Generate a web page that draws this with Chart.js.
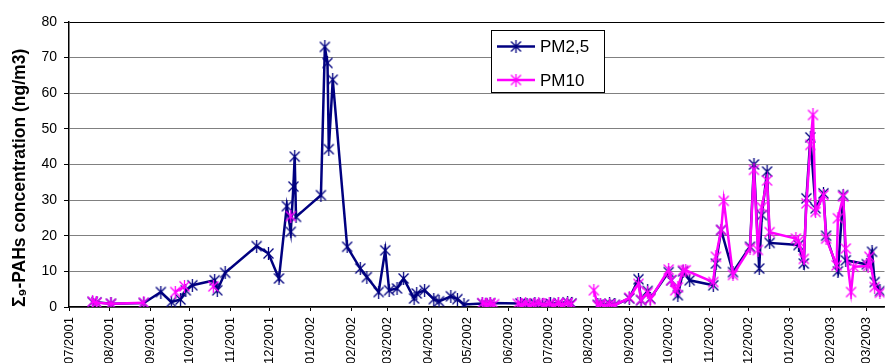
<!DOCTYPE html>
<html>
<head>
<meta charset="utf-8">
<script src="https://cdn.jsdelivr.net/npm/chart.js@4.4.1/dist/chart.umd.min.js"></script>
<style>
  html, body { margin: 0; padding: 0; background: #fff; overflow: hidden; }
</style>
</head>
<body>
<canvas id="chart" width="893" height="363"></canvas>
<script>
// month tick labels (MM/YYYY), each one sits on the 1st of its month
const monthLabels = ['07/2001', '08/2001', '09/2001', '10/2001', '11/2001', '12/2001',
  '01/2002', '02/2002', '03/2002', '04/2002', '05/2002', '06/2002', '07/2002',
  '08/2002', '09/2002', '10/2002', '11/2002', '12/2002', '01/2003', '02/2003', '03/2003'];

const pm25Dates = ['2001-07-19', '2001-07-22', '2001-08-02', '2001-08-27', '2001-09-09', '2001-09-17',
  '2001-09-24', '2001-09-28', '2001-10-03', '2001-10-20', '2001-10-22', '2001-10-28', '2001-11-21',
  '2001-11-30', '2001-12-08', '2001-12-14', '2001-12-17', '2001-12-19', '2001-12-20', '2001-12-21',
  '2002-01-09', '2002-01-12', '2002-01-14', '2002-01-15', '2002-01-18', '2002-01-29', '2002-02-08',
  '2002-02-13', '2002-02-22', '2002-02-27', '2002-03-02', '2002-03-08', '2002-03-13', '2002-03-21',
  '2002-03-23', '2002-03-29', '2002-04-05', '2002-04-09', '2002-04-18', '2002-04-23', '2002-04-28',
  '2002-05-12', '2002-05-15', '2002-05-18', '2002-06-10', '2002-06-15', '2002-06-21', '2002-06-27',
  '2002-07-03', '2002-07-09', '2002-07-16', '2002-07-19', '2002-07-30', '2002-08-08', '2002-08-10',
  '2002-08-13', '2002-08-17', '2002-08-21', '2002-09-01', '2002-09-08', '2002-09-10', '2002-09-15',
  '2002-09-17', '2002-10-01', '2002-10-03', '2002-10-08', '2002-10-12', '2002-10-17', '2002-11-04',
  '2002-11-06', '2002-11-10', '2002-11-19', '2002-12-02', '2002-12-05', '2002-12-09', '2002-12-11',
  '2002-12-15', '2002-12-17', '2003-01-08', '2003-01-12', '2003-01-14', '2003-01-17', '2003-01-21',
  '2003-01-27', '2003-01-29', '2003-02-07', '2003-02-11', '2003-02-13', '2003-03-01', '2003-03-05',
  '2003-03-07', '2003-03-11'];
const pm25Values = [1.4, 1.3, 0.9, 1.1, 4.2, 1.4,
  2.1, 4.7, 6.1, 7.5, 4.7, 9.6, 17.1,
  15.0, 8.0, 28.3, 21.1, 33.8, 42.2, 25.3,
  31.4, 73.0, 68.5, 44.3, 63.8, 16.9, 10.8,
  8.4, 4.2, 15.9, 4.7, 5.2, 8.0, 2.4,
  3.8, 4.7, 2.2, 1.6, 3.0, 2.2, 0.7,
  1.0, 0.7, 1.1, 1.0, 0.8, 1.0, 0.7,
  0.9, 1.1, 1.3, 1.0, null, 0.6, 0.8,
  0.5, 0.9, 0.6, 2.4, 7.8, 1.9, 4.5,
  2.4, 9.8, 7.5, 3.3, 10.0, 7.5, 6.1,
  12.2, 21.6, 9.8, 16.9, 40.0, 10.8, 25.8,
  38.0, 18.0, 17.4, 12.2, 30.5, 47.6, 27.7,
  31.9, 20.0, 10.0, 31.4, 13.1, 12.0, 15.5,
  7.0, 4.5];

const pm10Dates = ['2001-07-19', '2001-07-22', '2001-08-02', '2001-08-27', '2001-09-05', '2001-09-20',
  '2001-09-27', '2001-10-10', '2001-10-19', '2001-11-01', '2001-12-17', '2002-01-01', '2002-05-12',
  '2002-05-15', '2002-05-18', '2002-05-21', '2002-06-01', '2002-06-08', '2002-06-11', '2002-06-14',
  '2002-06-17', '2002-06-20', '2002-06-24', '2002-06-28', '2002-07-02', '2002-07-05', '2002-07-09',
  '2002-07-12', '2002-07-16', '2002-07-19', '2002-07-28', '2002-08-05', '2002-08-08', '2002-08-10',
  '2002-08-13', '2002-08-17', '2002-08-21', '2002-09-01', '2002-09-08', '2002-09-10', '2002-09-15',
  '2002-09-17', '2002-10-01', '2002-10-03', '2002-10-06', '2002-10-08', '2002-10-12', '2002-10-14',
  '2002-11-04', '2002-11-06', '2002-11-10', '2002-11-12', '2002-11-19', '2002-12-02', '2002-12-05',
  '2002-12-08', '2002-12-11', '2002-12-15', '2002-12-17', '2003-01-06', '2003-01-08', '2003-01-12',
  '2003-01-14', '2003-01-17', '2003-01-19', '2003-01-21', '2003-01-27', '2003-01-29', '2003-02-06',
  '2003-02-07', '2003-02-11', '2003-02-13', '2003-02-17', '2003-02-19', '2003-03-02', '2003-03-03',
  '2003-03-07', '2003-03-11'];
const pm10Values = [1.5, 1.2, 0.9, 1.2, null, 4.2,
  5.8, null, 5.8, null, 25.5, null, 1.1,
  0.8, 1.0, 0.8, null, 0.9, 0.6, 1.0,
  0.5, 0.8, 1.1, 0.6, 0.9, 0.5, 1.0,
  0.7, 1.1, 0.8, null, 4.7, 0.4, 0.8,
  0.3, 0.7, 0.5, 2.6, 6.5, 2.0, 4.0,
  2.2, 10.5, 7.5, 4.7, 5.5, 10.3, 10.3,
  7.0, 14.1, 21.6, 29.8, 9.0, 16.5, 38.5,
  16.0, 28.0, 35.5, 21.0, 19.2, 18.5, 13.5,
  29.1, 45.5, 53.9, 26.7, 31.4, 19.2, 11.7,
  24.9, 31.0, 16.4, 4.2, 11.3, 11.5, 14.1,
  5.6, 4.0];

// days since 1 July 2001
const origin = Date.UTC(2001, 6, 1);
function dayOf(iso) {
  const p = iso.split('-');
  return (Date.UTC(+p[0], +p[1] - 1, +p[2]) - origin) / 86400000;
}
function monthDay(label) {
  const p = label.split('/');
  return (Date.UTC(+p[1], +p[0] - 1, 1) - origin) / 86400000;
}
const tickDays = monthLabels.map(monthDay);

function toPoints(dates, values) {
  return dates.map((d, i) => ({ x: dayOf(d), y: values[i] }));
}

// Excel-like asterisk marker: an X with a vertical bar
function starMarker(color) {
  const c = document.createElement('canvas');
  c.width = 13;
  c.height = 13;
  const g = c.getContext('2d');
  g.strokeStyle = color;
  g.lineWidth = 1.3;
  g.beginPath();
  g.moveTo(1.5, 1.5); g.lineTo(11.5, 11.5);
  g.moveTo(11.5, 1.5); g.lineTo(1.5, 11.5);
  g.moveTo(6.5, 0); g.lineTo(6.5, 13);
  g.stroke();
  return c;
}

const navy = '#000080';
const magenta = '#FF00FF';
const fontFamily = "'Liberation Sans', Arial, sans-serif";

const legendBox = {
  id: 'legendBox',
  afterDraw(chart) {
    const ctx = chart.ctx;
    const box = { x: 491.5, y: 30.5, w: 113, h: 62 };
    ctx.save();
    ctx.fillStyle = '#fff';
    ctx.fillRect(box.x, box.y, box.w, box.h);
    ctx.strokeStyle = '#000';
    ctx.lineWidth = 1;
    ctx.strokeRect(box.x, box.y, box.w, box.h);
    ctx.font = '17px ' + fontFamily;
    ctx.textBaseline = 'middle';
    chart.data.datasets.forEach((ds, i) => {
      const y = 46.5 + i * 33.5;
      ctx.strokeStyle = ds.borderColor;
      ctx.lineWidth = 2.5;
      ctx.beginPath();
      ctx.moveTo(497, y);
      ctx.lineTo(535, y);
      ctx.stroke();
      const m = ds.pointStyle;
      ctx.drawImage(m, 516 - m.width / 2, y - m.height / 2);
      ctx.fillStyle = '#000';
      ctx.fillText(ds.label, 540, y + 1);
    });
    ctx.restore();
  }
};

new Chart(document.getElementById('chart'), {
  type: 'line',
  data: {
    datasets: [{
      label: 'PM2,5',
      data: toPoints(pm25Dates, pm25Values),
      borderColor: navy,
      backgroundColor: navy,
      borderWidth: 2.5,
      pointStyle: starMarker(navy),
      pointRadius: 6,
      tension: 0,
      spanGaps: false,
      order: 1
    }, {
      label: 'PM10',
      data: toPoints(pm10Dates, pm10Values),
      borderColor: magenta,
      backgroundColor: magenta,
      borderWidth: 2.5,
      pointStyle: starMarker(magenta),
      pointRadius: 6,
      tension: 0,
      spanGaps: false,
      order: 0
    }]
  },
  options: {
    responsive: false,
    animation: false,
    layout: { padding: { top: 22, right: 0, bottom: 0, left: 0 } },
    plugins: {
      legend: { display: false },
      tooltip: { enabled: false }
    },
    scales: {
      x: {
        type: 'linear',
        min: 0,
        max: 621.5,
        afterBuildTicks: s => { s.ticks = tickDays.map(v => ({ value: v })); },
        afterFit: s => { s.height = 56; },
        grid: { drawOnChartArea: false, drawTicks: true, tickLength: 4, tickColor: '#000' },
        border: { color: '#000', width: 1.5 },
        ticks: {
          autoSkip: false,
          minRotation: 90,
          maxRotation: 90,
          padding: 6,
          color: '#000',
          font: { family: fontFamily, size: 13 },
          callback: (v, i) => monthLabels[i]
        }
      },
      y: {
        min: 0,
        max: 80,
        afterFit: s => { s.width = 69; },
        grid: {
          color: ctx => (ctx.tick && ctx.tick.value === 80 ? '#000' : '#808080'),
          lineWidth: 1,
          tickLength: 5,
          tickColor: '#000'
        },
        border: { color: '#000', width: 1.5 },
        ticks: {
          stepSize: 10,
          padding: 7,
          color: '#000',
          font: { family: fontFamily, size: 14 }
        },
        title: {
          display: true,
          align: 'start',
          text: 'Σ₉-PAHs concentration (ng/m3)',
          color: '#000',
          padding: { top: 10, bottom: 0 },
          font: { family: fontFamily, size: 17.5, weight: 'bold' }
        }
      }
    }
  },
  plugins: [legendBox]
});
</script>
</body>
</html>
